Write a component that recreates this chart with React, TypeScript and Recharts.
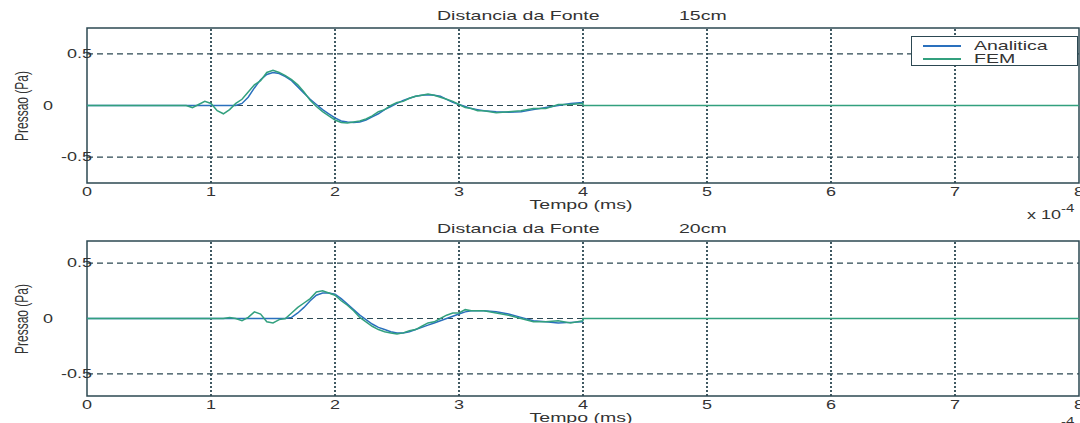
import React from 'react';
import { LineChart, Line, XAxis, YAxis, ReferenceLine, ReferenceArea } from 'recharts';

// tick values (x in units of 1e-4)
const xTicks = [0, 1, 2, 3, 4, 5, 6, 7, 8];
const yTicks = [-0.5, 0, 0.5];
const xGrid = [1, 2, 3, 4, 5, 6, 7];

const seriesNames = ['Analitica', 'FEM'];
const panelTitles = ['15cm', '20cm'];

// 15cm
const topAnalitica = [
  { t: 0, p: 0 }, { t: 1.2, p: 0 }, { t: 1.25, p: 0.02 }, { t: 1.3, p: 0.08 }, { t: 1.35, p: 0.17 },
  { t: 1.4, p: 0.25 }, { t: 1.45, p: 0.3 }, { t: 1.5, p: 0.32 }, { t: 1.55, p: 0.31 }, { t: 1.6, p: 0.28 },
  { t: 1.65, p: 0.24 }, { t: 1.7, p: 0.18 }, { t: 1.75, p: 0.12 }, { t: 1.8, p: 0.06 }, { t: 1.85, p: 0.01 },
  { t: 1.9, p: -0.04 }, { t: 1.95, p: -0.08 }, { t: 2.0, p: -0.12 }, { t: 2.05, p: -0.15 }, { t: 2.1, p: -0.16 },
  { t: 2.15, p: -0.165 }, { t: 2.2, p: -0.16 }, { t: 2.25, p: -0.14 }, { t: 2.3, p: -0.11 }, { t: 2.35, p: -0.08 },
  { t: 2.4, p: -0.04 }, { t: 2.45, p: -0.01 }, { t: 2.5, p: 0.02 }, { t: 2.55, p: 0.05 }, { t: 2.6, p: 0.07 },
  { t: 2.65, p: 0.09 }, { t: 2.7, p: 0.1 }, { t: 2.75, p: 0.105 }, { t: 2.8, p: 0.1 }, { t: 2.85, p: 0.09 },
  { t: 2.9, p: 0.06 }, { t: 2.95, p: 0.03 }, { t: 3.0, p: 0.01 }, { t: 3.05, p: -0.01 }, { t: 3.1, p: -0.03 },
  { t: 3.15, p: -0.04 }, { t: 3.2, p: -0.05 }, { t: 3.3, p: -0.06 }, { t: 3.4, p: -0.065 }, { t: 3.5, p: -0.06 },
  { t: 3.6, p: -0.04 }, { t: 3.7, p: -0.02 }, { t: 3.8, p: 0 }, { t: 3.9, p: 0.02 }, { t: 4.0, p: 0.03 },
];

const topFem = [
  { t: 0, p: 0 }, { t: 0.8, p: 0 }, { t: 0.85, p: -0.02 }, { t: 0.9, p: 0.01 }, { t: 0.95, p: 0.04 },
  { t: 1.0, p: 0.02 }, { t: 1.05, p: -0.05 }, { t: 1.1, p: -0.08 }, { t: 1.15, p: -0.04 }, { t: 1.2, p: 0.02 },
  { t: 1.25, p: 0.06 }, { t: 1.3, p: 0.13 }, { t: 1.35, p: 0.2 }, { t: 1.4, p: 0.24 }, { t: 1.45, p: 0.32 },
  { t: 1.5, p: 0.34 }, { t: 1.55, p: 0.32 }, { t: 1.6, p: 0.29 }, { t: 1.65, p: 0.25 }, { t: 1.7, p: 0.2 },
  { t: 1.75, p: 0.13 }, { t: 1.8, p: 0.05 }, { t: 1.85, p: -0.01 }, { t: 1.9, p: -0.06 }, { t: 1.95, p: -0.1 },
  { t: 2.0, p: -0.14 }, { t: 2.05, p: -0.165 }, { t: 2.1, p: -0.17 }, { t: 2.15, p: -0.16 }, { t: 2.2, p: -0.15 },
  { t: 2.25, p: -0.13 }, { t: 2.3, p: -0.1 }, { t: 2.35, p: -0.06 }, { t: 2.4, p: -0.04 }, { t: 2.45, p: 0 },
  { t: 2.5, p: 0.03 }, { t: 2.55, p: 0.04 }, { t: 2.6, p: 0.07 }, { t: 2.65, p: 0.09 }, { t: 2.7, p: 0.1 },
  { t: 2.75, p: 0.11 }, { t: 2.8, p: 0.1 }, { t: 2.85, p: 0.08 }, { t: 2.9, p: 0.06 }, { t: 2.95, p: 0.04 },
  { t: 3.0, p: 0.01 }, { t: 3.05, p: -0.02 }, { t: 3.1, p: -0.03 }, { t: 3.15, p: -0.05 }, { t: 3.2, p: -0.05 },
  { t: 3.3, p: -0.07 }, { t: 3.4, p: -0.06 }, { t: 3.5, p: -0.05 }, { t: 3.6, p: -0.03 }, { t: 3.7, p: -0.03 },
  { t: 3.8, p: 0.01 }, { t: 3.9, p: 0.01 }, { t: 4.0, p: 0.02 }, { t: 4.0, p: 0 }, { t: 8, p: 0 },
];

// 20cm
const bottomAnalitica = [
  { t: 0, p: 0 }, { t: 1.6, p: 0 }, { t: 1.65, p: 0.01 }, { t: 1.7, p: 0.05 }, { t: 1.75, p: 0.1 },
  { t: 1.8, p: 0.16 }, { t: 1.85, p: 0.21 }, { t: 1.9, p: 0.23 }, { t: 1.95, p: 0.23 }, { t: 2.0, p: 0.22 },
  { t: 2.05, p: 0.18 }, { t: 2.1, p: 0.13 }, { t: 2.15, p: 0.08 }, { t: 2.2, p: 0.03 }, { t: 2.25, p: -0.01 },
  { t: 2.3, p: -0.05 }, { t: 2.35, p: -0.08 }, { t: 2.4, p: -0.1 }, { t: 2.45, p: -0.12 }, { t: 2.5, p: -0.13 },
  { t: 2.55, p: -0.13 }, { t: 2.6, p: -0.12 }, { t: 2.65, p: -0.1 }, { t: 2.7, p: -0.08 }, { t: 2.75, p: -0.06 },
  { t: 2.8, p: -0.04 }, { t: 2.85, p: -0.02 }, { t: 2.9, p: 0 }, { t: 2.95, p: 0.02 }, { t: 3.0, p: 0.04 },
  { t: 3.05, p: 0.06 }, { t: 3.1, p: 0.07 }, { t: 3.2, p: 0.07 }, { t: 3.3, p: 0.06 }, { t: 3.4, p: 0.04 },
  { t: 3.5, p: 0.01 }, { t: 3.6, p: -0.02 }, { t: 3.7, p: -0.03 }, { t: 3.8, p: -0.04 }, { t: 3.9, p: -0.035 },
  { t: 4.0, p: -0.03 },
];

const bottomFem = [
  { t: 0, p: 0 }, { t: 1.1, p: 0 }, { t: 1.15, p: 0.01 }, { t: 1.2, p: 0 }, { t: 1.25, p: -0.02 },
  { t: 1.3, p: 0.01 }, { t: 1.35, p: 0.06 }, { t: 1.4, p: 0.04 }, { t: 1.45, p: -0.03 }, { t: 1.5, p: -0.04 },
  { t: 1.55, p: -0.01 }, { t: 1.6, p: 0 }, { t: 1.65, p: 0.05 }, { t: 1.7, p: 0.1 }, { t: 1.75, p: 0.14 },
  { t: 1.8, p: 0.18 }, { t: 1.85, p: 0.24 }, { t: 1.9, p: 0.25 }, { t: 1.95, p: 0.23 }, { t: 2.0, p: 0.21 },
  { t: 2.05, p: 0.16 }, { t: 2.1, p: 0.12 }, { t: 2.15, p: 0.07 }, { t: 2.2, p: 0.01 }, { t: 2.25, p: -0.03 },
  { t: 2.3, p: -0.07 }, { t: 2.35, p: -0.1 }, { t: 2.4, p: -0.12 }, { t: 2.45, p: -0.13 }, { t: 2.5, p: -0.14 },
  { t: 2.55, p: -0.13 }, { t: 2.6, p: -0.11 }, { t: 2.65, p: -0.1 }, { t: 2.7, p: -0.07 }, { t: 2.75, p: -0.04 },
  { t: 2.8, p: -0.03 }, { t: 2.85, p: 0 }, { t: 2.9, p: 0.03 }, { t: 2.95, p: 0.05 }, { t: 3.0, p: 0.05 },
  { t: 3.05, p: 0.08 }, { t: 3.1, p: 0.07 }, { t: 3.2, p: 0.07 }, { t: 3.3, p: 0.05 }, { t: 3.4, p: 0.03 },
  { t: 3.5, p: 0 }, { t: 3.6, p: -0.03 }, { t: 3.7, p: -0.03 }, { t: 3.8, p: -0.02 }, { t: 3.9, p: -0.04 },
  { t: 4.0, p: -0.02 }, { t: 4.0, p: 0 }, { t: 8, p: 0 },
];

const BLUE = '#2a70bd';
const GREEN = '#32a07e';
const GRID = '#2c4852';
const TXT = '#333';
const FONT = 'Liberation Sans, Arial, sans-serif';
const SX = 1.5; // the original is stretched horizontally

const XTick = (props: any) => {
  const { x, payload } = props;
  return (
    <text transform={`translate(${x},196) scale(${SX},1)`} textAnchor="middle" fontSize={12} fill={TXT} fontFamily={FONT}>
      {payload.value}
    </text>
  );
};

const YTick = (props: any) => {
  const { y, payload } = props;
  const v = payload.value;
  const x = v === 0 ? 53 : 92;
  return (
    <text transform={`translate(${x},${y + 4}) scale(${SX},1)`} textAnchor="end" fontSize={12} fill={TXT} fontFamily={FONT}>
      {v}
    </text>
  );
};

const Label = ({ left, top, size = 13, children, center = false }: any) => (
  <div
    style={{
      position: 'absolute', left, top, fontSize: size, lineHeight: 1, color: TXT, fontFamily: FONT,
      whiteSpace: 'nowrap', transform: center ? `translateX(-50%) scaleX(${SX})` : `scaleX(${SX})`,
      transformOrigin: center ? 'center' : 'left',
    }}
  >
    {children}
  </div>
);

function Panel({ top, height, yMax, analitica, fem, title, xAxisHeight }: any) {
  return (
    <div style={{ position: 'absolute', left: 0, top, width: 1080, height }}>
      <LineChart width={1080} height={height} margin={{ top: 28, right: 1, bottom: 0, left: 0 }}>
        <XAxis type="number" dataKey="t" domain={[0, 8]} ticks={xTicks} tick={<XTick />} tickLine={false}
          axisLine={false} height={xAxisHeight} allowDataOverflow interval={0} />
        <YAxis type="number" dataKey="p" domain={[-yMax, yMax]} ticks={yTicks} tick={<YTick />} tickLine={false}
          axisLine={false} width={87} allowDataOverflow interval={0} />
        {yTicks.map((v) => (
          <ReferenceLine key={'h' + v} y={v} stroke={GRID} strokeDasharray="6 4" strokeWidth={1.2} />
        ))}
        {xGrid.map((v) => (
          <ReferenceLine key={'v' + v} x={v} stroke={GRID} strokeDasharray="2 2" strokeWidth={1.8} />
        ))}
        <Line data={analitica} dataKey="p" type="linear" stroke={BLUE} strokeWidth={1.5} dot={false}
          isAnimationActive={false} name={seriesNames[0]} />
        <Line data={fem} dataKey="p" type="linear" stroke={GREEN} strokeWidth={1.5} dot={false}
          isAnimationActive={false} name={seriesNames[1]} />
        <ReferenceArea x1={0} x2={8} y1={-yMax} y2={yMax} fill="none" stroke={GRID} strokeWidth={1.5} ifOverflow="visible" />
      </LineChart>
      <Label left={437} top={9}>Distancia da Fonte</Label>
      <Label left={679} top={9}>{title}</Label>
      <Label left={581} top={198} center>Tempo (ms)</Label>
      <div style={{ position: 'absolute', left: 1027, top: 206, fontSize: 12, lineHeight: 1, color: TXT, fontFamily: FONT, whiteSpace: 'nowrap' }}>
        <span style={{ display: 'inline-block', transform: `scaleX(${SX})`, transformOrigin: 'left' }}>
          x 10<sup style={{ fontSize: 10, position: 'relative', top: -2 }}>-4</sup>
        </span>
      </div>
      <div
        style={{
          position: 'absolute', left: 22, top: 106, fontSize: 12, lineHeight: 1, color: TXT, fontFamily: FONT,
          whiteSpace: 'nowrap', transform: 'translate(-50%,-50%) rotate(-90deg) scaleY(1.5)',
        }}
      >
        Pressao (Pa)
      </div>
    </div>
  );
}

export default function App() {
  return (
    <div style={{ position: 'fixed', left: 0, top: 0, width: 1080, height: 423, background: '#fff', overflow: 'hidden' }}>
      <Panel top={0} height={215} yMax={0.75} analitica={topAnalitica} fem={topFem} title={panelTitles[0]} xAxisHeight={32} />
      <Panel top={213} height={210} yMax={0.7} analitica={bottomAnalitica} fem={bottomFem} title={panelTitles[1]} xAxisHeight={27} />
      {/* legend */}
      <div style={{ position: 'absolute', left: 911, top: 36, width: 165, height: 28, border: `1px solid ${GRID}`, background: '#fff' }}>
        {seriesNames.map((n, i) => (
          <div key={n} style={{ position: 'absolute', left: 0, top: 1 + i * 13, height: 13, width: 165 }}>
            <div style={{ position: 'absolute', left: 11, top: 7, width: 38, height: 1.5, background: i === 0 ? BLUE : GREEN }} />
            <Label left={62} top={1}>{n}</Label>
          </div>
        ))}
      </div>
    </div>
  );
}
